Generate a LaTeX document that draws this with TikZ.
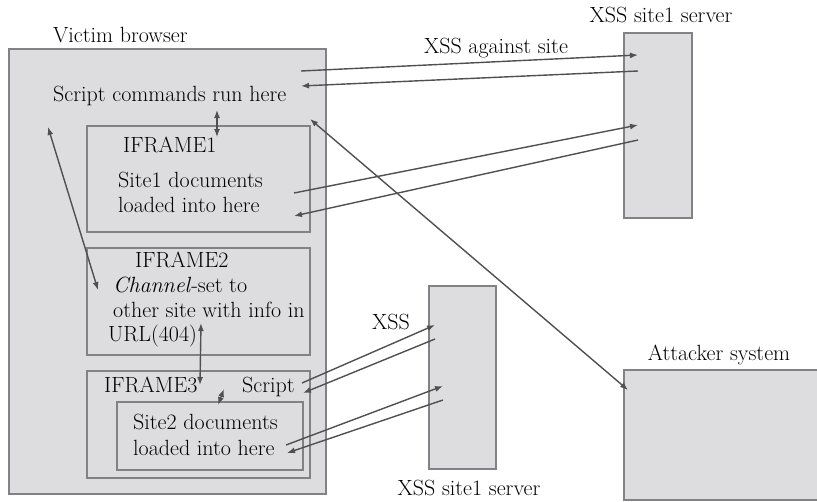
\documentclass[tikz,border=0pt]{standalone}
\usetikzlibrary{arrows.meta}

\definecolor{boxfill}{RGB}{221,221,223}
\definecolor{boxline}{RGB}{130,130,132}
\definecolor{wireline}{RGB}{80,80,82}

\tikzset{
  box/.style={draw=boxline, fill=boxfill, line width=1.6pt, inner sep=0pt, anchor=north west},
  lbl/.style={inner sep=0pt, font=\fontsize{22}{26}\selectfont},
  wire/.style={draw=wireline, line width=1.4pt, -{Latex[length=8pt,width=6pt]}},
  twoway/.style={wire, {Latex[length=8pt,width=6pt]}-{Latex[length=8pt,width=6pt]}},
}

\begin{document}
\begin{tikzpicture}[x=1pt,y=-1pt]
    \useasboundingbox (0,0) rectangle (817,501);
    \clip (0,0) rectangle (817,501);

    % boxes
    \node [box, minimum width=317pt, minimum height=445pt] (browser) at (8,48) {}; % victim browser
    \node [box, minimum width=223pt, minimum height=106pt] (frame1) at (86,125) {};
    \node [box, minimum width=223pt, minimum height=107pt] (frame2) at (86,247) {};
    \node [box, minimum width=223pt, minimum height=107pt] (frame3) at (86,370) {};
    \node [box, minimum width=186pt, minimum height=68pt] (site2) at (116,401) {};
    \node [box, minimum width=68pt, minimum height=185pt] (server1) at (623,32) {}; % top server
    \node [box, minimum width=67pt, minimum height=183pt] (server2) at (428,285) {}; % bottom server
    \node [box, minimum width=220pt, minimum height=130pt] (attacker) at (623,369) {};

    % labels
    \node [lbl, anchor=base west] (browserlbl) at (53,42) {Victim browser};
    \node [lbl, anchor=base west] (cmdlbl) at (53,101) {Script commands run here};
    \node [lbl, anchor=base west] (frame1lbl) at (123,152) {IFRAME1};
    \node [lbl, anchor=base west] (site1a) at (118,187) {Site1 documents};
    \node [lbl, anchor=base west] (site1b) at (118,212) {loaded into here};
    \node [lbl, anchor=base west] (frame2lbl) at (135,267) {IFRAME2};
    \node [lbl, anchor=base west] (chan1) at (113,292) {\textit{Channel}-set to};
    \node [lbl, anchor=base west] (chan2) at (113,317) {other site with info in};
    \node [lbl, anchor=base west] (urllbl) at (108,341) {URL(404)};
    \node [lbl, anchor=base west] (frame3lbl) at (104,392) {IFRAME3};
    \node [lbl, anchor=base west] (scriptlbl) at (242,392) {Script};
    \node [lbl, anchor=base west] (site2a) at (133,429) {Site2 documents};
    \node [lbl, anchor=base west] (site2b) at (133,455) {loaded into here};
    \node [lbl, anchor=base] (server1lbl) at (661,22) {XSS site1 server};
    \node [lbl, anchor=base] (againstlbl) at (496,53) {XSS against site};
    \node [lbl, anchor=base] (xsslbl) at (391,329) {XSS};
    \node [lbl, anchor=base] (server2lbl) at (469,495) {XSS site1 server};
    \node [lbl, anchor=base] (attackerlbl) at (719,360) {Attacker system};

    % connector ends
    \coordinate (a1) at (301,71);  \coordinate (b1) at (638,55);
    \coordinate (a2) at (301,86);  \coordinate (b2) at (638,71);
    \coordinate (a3) at (294,193); \coordinate (b3) at (638,125);
    \coordinate (a4) at (294,216); \coordinate (b4) at (638,140);
    \coordinate (c1) at (302,383); \coordinate (d1) at (435,325);
    \coordinate (c2) at (303,393); \coordinate (d2) at (435,339);
    \coordinate (c3) at (286,445); \coordinate (d3) at (443,386);
    \coordinate (c4) at (287,453); \coordinate (d4) at (443,400);
    \coordinate (e1) at (310,119); \coordinate (e2) at (628,390); % to attacker
    \coordinate (g1) at (48,127);  \coordinate (g2) at (98,290); % to channel
    \coordinate (h1) at (217,110); \coordinate (h2) at (217,137);
    \coordinate (k1) at (201,323); \coordinate (k2) at (200,385);
    \coordinate (m1) at (224,389); \coordinate (m2) at (218,405);

    % connectors
    \draw [wire] (a1) -- (b1); \draw [wire] (b2) -- (a2);
    \draw [wire] (a3) -- (b3); \draw [wire] (b4) -- (a4);
    \draw [wire] (c1) -- (d1); \draw [wire] (d2) -- (c2);
    \draw [wire] (c3) -- (d3); \draw [wire] (d4) -- (c4);
    \draw [twoway] (e1) -- (e2);
    \draw [twoway] (g1) -- (g2);
    \draw [twoway] (h1) -- (h2);
    \draw [twoway] (k1) -- (k2);
    \draw [twoway] (m1) -- (m2);
\end{tikzpicture}
\end{document}
